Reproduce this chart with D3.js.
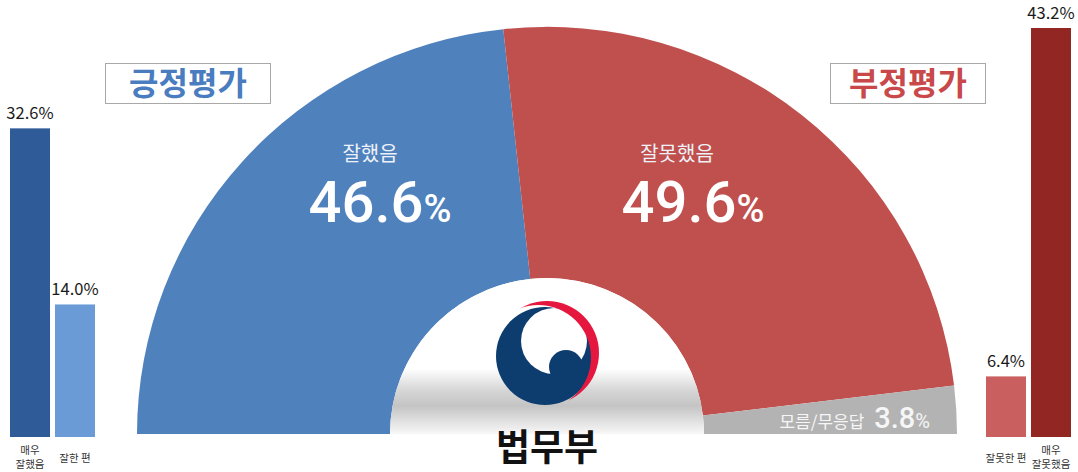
<!DOCTYPE html>
<html><head><meta charset="utf-8">
<script src="https://cdn.jsdelivr.net/npm/d3@7/dist/d3.min.js"></script>
<style>
body{margin:0;background:#fff}
svg{display:block}
text{font-family:"Noto Sans CJK KR","Noto Sans",sans-serif}
</style>
</head><body>
<svg id="chart" width="1078" height="472"></svg>
<script>
// ---- data ----
const categories = ["잘했음", "잘못했음", "모름/무응답"];
const values = [46.6, 49.6, 3.8];
const posBars = ["매우 잘했음", "잘한 편"];
const posValues = [32.6, 14.0];
const posTicks = [["매우", "잘했음"], ["잘한 편"]];
const negBars = ["잘못한 편", "매우 잘못했음"];
const negValues = [6.4, 43.2];
const negTicks = [["잘못한 편"], ["매우", "잘못했음"]];
const titles = ["긍정평가", "부정평가"];
const ministry = "법무부";

// ---- layout ----
const svg = d3.select("#chart");
const defs = svg.append("defs");
const cx = 547, cy = 434, rOuter = 410, rInner = 157;
const pieColors = ["#4f81bd", "#c0504d", "#b3b3b3"];

// hole gradient (in the donut group's local coordinates)
const g1 = defs.append("linearGradient").attr("id", "holeGrad")
  .attr("gradientUnits", "userSpaceOnUse").attr("x1", 0).attr("x2", 0).attr("y1", -rInner).attr("y2", 0);
[[0, "#ffffff"], [0.58, "#ffffff"], [0.72, "#d6d6d6"], [0.82, "#c4c4c4"], [0.93, "#e4e4e4"], [1, "#f8f8f8"]]
  .forEach(([o, c]) => g1.append("stop").attr("offset", o).attr("stop-color", c));

const pie = d3.pie().sort(null).value(d => d).startAngle(-Math.PI / 2).endAngle(Math.PI / 2);
const arc = d3.arc().innerRadius(rInner).outerRadius(rOuter);
const arcs = pie(values);

const donut = svg.append("g").attr("transform", `translate(${cx},${cy}) scale(1,0.993)`);
donut.selectAll("path.seg").data(arcs).join("path").attr("class", "seg")
  .attr("d", arc).attr("fill", (d, i) => pieColors[i]);
// hole
donut.append("path")
  .attr("d", d3.arc().innerRadius(0).outerRadius(rInner).startAngle(-Math.PI / 2).endAngle(Math.PI / 2)())
  .attr("fill", "url(#holeGrad)");

// ---- logo (government emblem) ----
const logo = svg.append("g");
const lc = [547, 353], lr = 52;
defs.append("clipPath").attr("id", "logoClip").append("circle").attr("cx", lc[0]).attr("cy", lc[1]).attr("r", lr);
logo.append("circle").attr("cx", 545).attr("cy", 356).attr("r", 49).attr("fill", "#0d3c6e");
logo.append("circle").attr("cx", 554).attr("cy", 341).attr("r", 33).attr("fill", "#ffffff");
logo.append("circle").attr("cx", 566).attr("cy", 367).attr("r", 17).attr("fill", "#0d3c6e");
const ic = [538.3, 357.5], ir = 52.6;
const cres = `M${lc[0] - 80},${lc[1] - 80}H${lc[0] + 80}V${lc[1] + 80}H${lc[0] - 80}Z` +
  `M${ic[0] - ir},${ic[1]}a${ir},${ir} 0 1,0 ${2 * ir},0a${ir},${ir} 0 1,0 ${-2 * ir},0Z`;
logo.append("path").attr("d", cres).attr("fill", "#e5173f").attr("fill-rule", "evenodd")
  .attr("clip-path", "url(#logoClip)");

svg.append("text").attr("x", cx).attr("y", 461).attr("text-anchor", "middle")
  .attr("font-size", 37).attr("font-weight", 700).attr("fill", "#111").text(ministry);

// ---- segment labels (one text element per segment, two lines) ----
const segLab = [
  { x: 370, y1: 161, x2: 380, y2: 222 },
  { x: 677, y1: 161, x2: 693, y2: 222 }
];
segLab.forEach((p, i) => {
  const t = svg.append("text").attr("text-anchor", "middle");
  t.append("tspan").attr("x", p.x).attr("y", p.y1)
    .attr("font-size", 20).attr("fill", "#eef2f8").text(categories[i]);
  t.append("tspan").attr("x", p.x2).attr("y", p.y2)
    .attr("fill", "#ffffff").attr("font-weight", 500).attr("font-family", "Roboto, sans-serif")
    .attr("font-size", 58).text(values[i].toFixed(1));
  t.append("tspan").attr("fill", "#ffffff").attr("font-weight", 500).attr("font-family", "Roboto, sans-serif")
    .attr("font-size", 38).text("%");
});
{
  const t = svg.append("text").attr("x", 930).attr("y", 428).attr("text-anchor", "end").attr("fill", "#f6f6f6");
  t.append("tspan").attr("font-size", 17).text(categories[2]);
  t.append("tspan").attr("font-size", 29).attr("dx", 10).attr("font-weight", 500)
    .attr("font-family", "Roboto, sans-serif").text(values[2].toFixed(1));
  t.append("tspan").attr("font-size", 20).attr("font-family", "Roboto, sans-serif").text("%");
}

// ---- title boxes ----
const titleBoxes = [
  { x: 105, w: 165, color: "#4a7cc0" },
  { x: 830, w: 155, color: "#c9494b" }
];
titleBoxes.forEach((b, i) => {
  svg.append("rect").attr("x", b.x + 0.5).attr("y", 63.5).attr("width", b.w).attr("height", 40)
    .attr("fill", "#fff").attr("stroke", "#a8a8a8").attr("stroke-width", 1);
  svg.append("text").attr("x", b.x + b.w / 2 + 0.5).attr("y", 95).attr("text-anchor", "middle")
    .attr("font-size", 32).attr("font-weight", 700).attr("fill", b.color).text(titles[i]);
});

// ---- side bars ----
const y = d3.scaleLinear().domain([0, 43.2]).range([437, 28]);
function sideBars(names, vals, ticks, range, colors) {
  const x = d3.scaleBand().domain(names).range(range).paddingInner(0.111).paddingOuter(0);
  const g = svg.append("g");
  g.selectAll("rect").data(vals).join("rect")
    .attr("x", (d, i) => x(names[i])).attr("width", x.bandwidth())
    .attr("y", d => y(d)).attr("height", d => y(0) - y(d))
    .attr("fill", (d, i) => colors[i]);
  g.selectAll("text.v").data(vals).join("text").attr("class", "v")
    .attr("x", (d, i) => x(names[i]) + x.bandwidth() / 2).attr("y", d => y(d) - 9)
    .attr("text-anchor", "middle").attr("font-size", 16.5).attr("fill", "#1a1a1a")
    .attr("font-family", "'Noto Sans', sans-serif")
    .text(d => d.toFixed(1) + "%");
  ticks.forEach((lines, i) => {
    const t = g.append("text").attr("text-anchor", "middle").attr("font-size", 10.5).attr("fill", "#333");
    const x0 = x(names[i]) + x.bandwidth() / 2;
    const y0 = lines.length > 1 ? 454 : 462;
    lines.forEach((l, k) => t.append("tspan").attr("x", x0).attr("y", y0 + k * 14).text(l));
  });
}
sideBars(posBars, posValues, posTicks, [10, 95], ["#2f5c99", "#6a9bd7"]);
sideBars(negBars, negValues, negTicks, [986, 1071], ["#c9605f", "#912623"]);
</script>
</body></html>
